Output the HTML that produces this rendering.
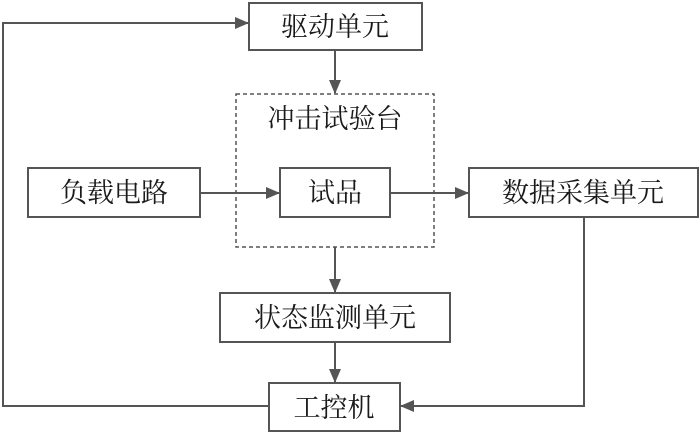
<!DOCTYPE html>
<html><head><meta charset="utf-8"><style>
body{margin:0;background:#fff;}
svg{display:block;}
text{font-family:"Liberation Serif","Noto Serif CJK SC",serif;font-size:27px;fill:#1a1a1a;text-anchor:middle;dominant-baseline:central;}
</style></head><body>
<svg width="700" height="433" viewBox="0 0 700 433">
<defs><marker id="a" markerWidth="14" markerHeight="12" refX="13" refY="6" orient="auto" markerUnits="userSpaceOnUse"><path d="M0,0 L14,6 L0,12 Z" fill="#555"/></marker></defs>
<g fill="none" stroke="#555" stroke-width="2">
<rect x="249" y="3" width="173" height="47"/>
<rect x="236" y="94" width="198" height="153" stroke-dasharray="4,3" stroke-width="1.5"/>
<rect x="280" y="168" width="110" height="49"/>
<rect x="28" y="168" width="172" height="49"/>
<rect x="469" y="168" width="229" height="49"/>
<rect x="220" y="293" width="230" height="49"/>
<rect x="269" y="383" width="131" height="48"/>
<path d="M269,406 L3,406 L3,23 L248,23" marker-end="url(#a)"/>
<path d="M335,50 L335,93" marker-end="url(#a)"/>
<path d="M200,193 L279,193" marker-end="url(#a)"/>
<path d="M390,193 L468,193" marker-end="url(#a)"/>
<path d="M335,247 L335,292" marker-end="url(#a)"/>
<path d="M335,342 L335,382" marker-end="url(#a)"/>
<path d="M584,217 L584,406 L401,406" marker-end="url(#a)"/>
</g>
<text x="335" y="27">驱动单元</text>
<text x="335" y="119">冲击试验台</text>
<text x="335" y="193">试品</text>
<text x="114" y="193">负载电路</text>
<text x="583" y="193">数据采集单元</text>
<text x="335" y="318">状态监测单元</text>
<text x="334" y="408">工控机</text>
</svg>
</body></html>
